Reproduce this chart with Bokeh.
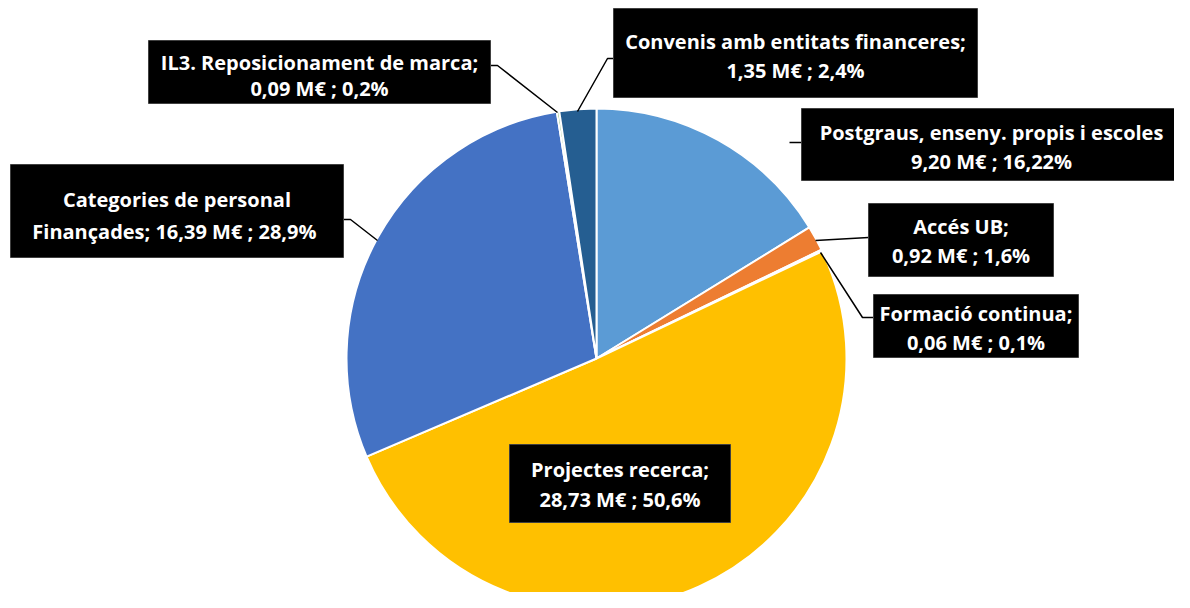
import numpy as np
from bokeh.plotting import figure
from bokeh.models import Range1d, ColumnDataSource
from bokeh.core.properties import value
from bokeh.embed import file_html
from bokeh.resources import INLINE

# ---- data ----
categories = ["Postgraus, enseny. propis i escoles", "Accés UB", "Formació continua",
              "Projectes recerca", "Categories de personal Finançades",
              "IL3. Reposicionament de marca", "Convenis amb entitats financeres"]
values_meur = [9.20, 0.92, 0.06, 28.73, 16.39, 0.09, 1.35]
colors = ["#5B9BD5", "#ED7D31", "#A5A5A5", "#FFC000", "#4472C4", "#70AD47", "#255E91"]
label_line1 = ["Postgraus, enseny. propis i escoles", "Accés UB;", "Formació continua;",
               "Projectes recerca;", "Categories de personal",
               "IL3. Reposicionament de marca;", "Convenis amb entitats financeres;"]
label_line2 = ["9,20 M€ ; 16,22%", "0,92 M€ ; 1,6%", "0,06 M€ ; 0,1%",
               "28,73 M€ ; 50,6%", "Finançades;  16,39 M€ ; 28,9%",
               "0,09 M€ ; 0,2%", "1,35 M€ ; 2,4%"]

# ---- layout (screen pixel coordinates of the 1190x608 image) ----
H = 608
def sy(Y):
    return H - Y

W_FIG, H_FIG = 1174, 592
X0, Y0 = 0, 0  # screen offset of the canvas
p = figure(width=W_FIG, height=H_FIG, output_backend="svg", toolbar_location=None,
           x_range=Range1d(X0, X0 + W_FIG), y_range=Range1d(sy(Y0 + H_FIG), sy(Y0)),
           min_border=0, background_fill_color="white", border_fill_color="white")
p.axis.visible = False
p.grid.visible = False
p.outline_line_color = None

cx, cy, r = 596, sy(358), 250
vals = np.array(values_meur)
frac = vals / vals.sum()
cum = np.concatenate([[0], np.cumsum(frac)])
start = np.pi / 2 - 2 * np.pi * cum[:-1]
end = np.pi / 2 - 2 * np.pi * cum[1:]
src = ColumnDataSource(dict(start=start, end=end, color=colors))
p.wedge(x=cx, y=cy, radius=r, start_angle="start", end_angle="end", direction="clock",
        fill_color="color", line_color="white", line_width=2, source=src)

# label boxes: (left, top, right, bottom) and line centers (screen px)
boxes = [(801, 108, 1181, 180), (868, 203, 1053, 276), (873, 294, 1078, 357),
         (509, 444, 730, 522), (10, 164, 343, 257), (148, 40, 490, 103), (613, 8, 977, 97)]
line_y = [(132, 161), (226, 255), (313, 342), (469, 499), (199, 231), (62, 88), (41, 70)]

# leader lines
leaders = [
    [(789, 142), (801, 142)],
    [(815, 240), (868, 237)],
    [(820, 252), (862, 317), (873, 317)],
    [(377, 240), (350, 219), (343, 219)],
    [(557, 112), (497, 65), (490, 65)],
    [(577, 111), (607, 58), (613, 58)],
]
p.multi_line(xs=[[pt[0] for pt in L] for L in leaders],
             ys=[[sy(pt[1]) for pt in L] for L in leaders],
             line_color="black", line_width=1.5)

bx = [(b[0] + b[2]) / 2 for b in boxes]
by = [sy((b[1] + b[3]) / 2) for b in boxes]
bw = [b[2] - b[0] for b in boxes]
bh = [b[3] - b[1] for b in boxes]
p.rect(x=bx, y=by, width=bw, height=bh, fill_color="black", line_color="#404040", line_width=1)

tx = bx + bx
ty = [sy(l[0]) for l in line_y] + [sy(l[1]) for l in line_y]
tt = label_line1 + label_line2
p.text(x=tx, y=ty, text=tt, text_color="white", text_font=value("Open Sans"),
       text_font_style="bold", text_font_size="20px", text_align="center",
       text_baseline="middle")

open("out.html", "w").write(file_html(p, INLINE))
